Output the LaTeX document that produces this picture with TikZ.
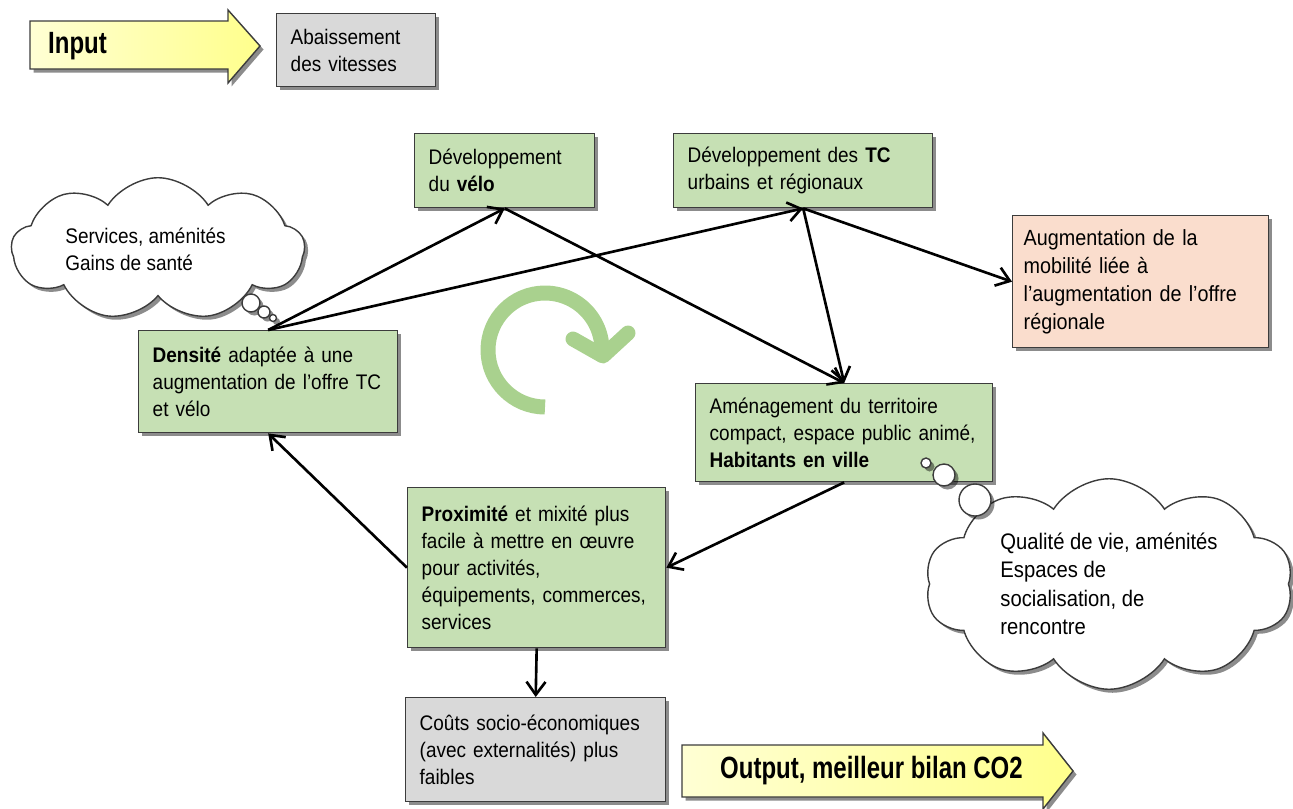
\documentclass[tikz,border=0pt]{standalone}
\usepackage{fontspec}
\setmainfont{Liberation Sans}[FakeStretch=0.9]
\newfontfamily\narrowbold{Liberation Sans}[FakeStretch=0.78]
\usepackage{tikz}
\usetikzlibrary{arrows.meta,shapes.symbols,shadows}
\usepackage{xcolor}
\definecolor{cfgreen}{RGB}{198,224,180}
\definecolor{cfgray}{RGB}{217,217,217}
\definecolor{cfpeach}{RGB}{250,221,205}
\definecolor{cfborder}{RGB}{60,60,60}
\definecolor{cfyellowa}{RGB}{255,255,212}
\definecolor{cfyellowb}{RGB}{255,255,140}
\definecolor{cfcycle}{RGB}{169,209,142}
\tikzstyle{arrow} = [line width=1.5pt,-{Straight Barb[length=0.26cm,width=0.38cm]},color=black]
\tikzstyle{softshadow} = [drop shadow={shadow xshift=0.07cm,shadow yshift=-0.07cm,fill=black,opacity=0.45}]
\tikzstyle{panel} = [rectangle, anchor=north west, draw=cfborder, line width=0.8pt, inner xsep=0.28cm, align=left, font=\fontsize{12}{15.3}\selectfont, softshadow]
\tikzstyle{greenbox} = [panel, fill=cfgreen]
\tikzstyle{graybox} = [panel, fill=cfgray]
\tikzstyle{peachbox} = [panel, fill=cfpeach, inner xsep=0.22cm, font=\fontsize{12.5}{15.9}\selectfont]
\tikzstyle{blockarrow} = [draw=cfborder, line width=0.8pt, left color=cfyellowa, right color=cfyellowb, softshadow]
\tikzstyle{bigtext} = [anchor=west, font=\narrowbold\bfseries\fontsize{17.5}{20}\selectfont]
\tikzstyle{thought} = [cloud, cloud puff arc=115, draw=cfborder, line width=0.8pt, fill=white, align=left, font=\fontsize{12}{15.3}\selectfont, softshadow]
\tikzstyle{bubble} = [draw=cfborder, line width=0.8pt, fill=white, softshadow]
\tikzstyle{cycle} = [cfcycle, line width=0.3cm]

\begin{document}
\begin{tikzpicture}[x=0.02cm, y=-0.02cm]
\useasboundingbox (0,0) rectangle (1293,808);

% Input
\path[blockarrow] (30,21) -- (228,21) -- (228,10) -- (260,46) -- (228,83) -- (228,69) -- (30,69) -- cycle;
\node (input) [bigtext] at (42,46) {Input};
\node (abaiss) [graybox, text width=2.62cm, minimum height=1.46cm] at (276,13) {Abaissement\\des vitesses};

% Offre
\node (velo) [greenbox, text width=3.04cm, minimum height=1.48cm] at (414,133) {Développement\\du \textbf{vélo}};
\node (tc) [greenbox, text width=4.62cm, minimum height=1.48cm] at (673,133) {Développement des \textbf{TC}\\urbains et régionaux};
\node (augm) [peachbox, text width=4.68cm, minimum height=2.64cm] at (1012,215) {Augmentation de la\\mobilité liée à\\l’augmentation de l’offre\\régionale};

% Boucle
\node (dens) [greenbox, text width=4.62cm, minimum height=2.04cm] at (138,330) {\textbf{Densité} adaptée à une\\augmentation de l’offre TC\\et vélo};
\node (amen) [greenbox, text width=5.38cm, minimum height=1.96cm] at (695,383) {Aménagement du territoire\\compact, espace public animé,\\\textbf{Habitants en ville}};
\node (prox) [greenbox, text width=4.6cm, minimum height=3.2cm] at (407,487) {\textbf{Proximité} et mixité plus\\facile à mettre en œuvre\\pour activités,\\équipements, commerces,\\services};
\node (couts) [graybox, text width=4.64cm, minimum height=2.08cm] at (405,697) {Coûts socio-économiques\\(avec externalités) plus\\faibles};

% Cycle
\draw[cycle] (545,407) arc[start angle=90, end angle=362, radius=57];
\draw[cycle, line cap=round, line join=round] (573,339) -- (603,356) -- (628,333);

% Connections
\draw[arrow] (dens.north) -- (velo.south);
\draw[arrow] (dens.north) -- (tc.south);
\draw[arrow] (velo.south) -- (amen.north);
\draw[arrow] (tc.south) -- (amen.north);
\draw[arrow] (tc.south) -- (augm.west);
\draw[arrow] (amen.south) -- (prox.east);
\draw[arrow] (prox.west) -- (dens.south);
\draw[arrow] (prox.south) -- (couts.north);

% Clouds
\node (sante) [thought, cloud puffs=9, aspect=2.9, minimum width=5.86cm, minimum height=2.0cm] at (158,249) {Services, aménités\hspace*{0.5cm}\\Gains de santé};
\draw[bubble] (251,303) circle[radius=9];
\draw[bubble] (264,312) circle[radius=6];
\draw[bubble] (273,318) circle[radius=3.5];
\node (vie) [thought, cloud puffs=10, aspect=2.1, minimum width=7.36cm, minimum height=3.5cm, font=\fontsize{12.8}{16.2}\selectfont] at (1109,584) {Qualité de vie, aménités\\Espaces de\\socialisation, de\\rencontre};
\draw[bubble] (926,463) circle[radius=5];
\draw[bubble] (944,475) circle[radius=11];
\draw[bubble] (975,500) circle[radius=16];

% Output
\path[blockarrow] (682,745) -- (1043,745) -- (1043,733) -- (1073,771) -- (1043,809) -- (1043,797) -- (682,797) -- cycle;
\node (output) [bigtext] at (714,771) {Output, meilleur bilan CO2};
\end{tikzpicture}
\end{document}
